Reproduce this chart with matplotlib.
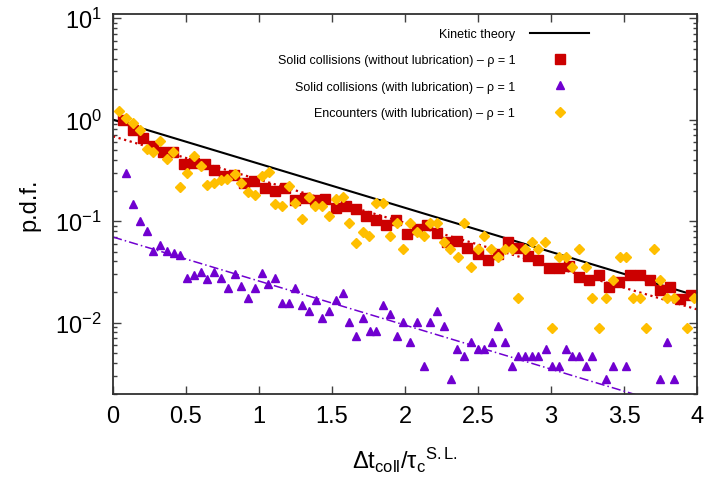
import matplotlib
matplotlib.use('Agg')
import matplotlib.pyplot as plt
from matplotlib.ticker import LogLocator, MultipleLocator, NullFormatter

plt.rcParams['font.family'] = ['Liberation Sans', 'DejaVu Sans']
plt.rcParams['mathtext.fontset'] = 'custom'
plt.rcParams['mathtext.rm'] = 'Liberation Sans'
plt.rcParams['mathtext.it'] = 'Liberation Sans'
plt.rcParams['mathtext.default'] = 'regular'

# kinetic theory and fitted lines (end points)
kin_x = [0.0, 4.0]
kin_y = [1.0, 0.0183]
red_fit_x = [0.0, 4.0]
red_fit_y = [0.685, 0.0135]
pur_fit_x = [0.0, 4.0]
pur_fit_y = [0.0697, 0.00128]

# solid collisions without lubrication
red_x = [0.066, 0.139, 0.207, 0.276, 0.345, 0.413, 0.488, 0.557, 0.627, 0.694,
         0.762, 0.831, 0.899, 0.968, 1.043, 1.112, 1.180, 1.249, 1.317, 1.386,
         1.454, 1.529, 1.598, 1.666, 1.735, 1.803, 1.872, 1.940, 2.016, 2.084,
         2.153, 2.221, 2.290, 2.358, 2.427, 2.502, 2.571, 2.639, 2.708, 2.776,
         2.845, 2.913, 2.988, 3.057, 3.125, 3.194, 3.262, 3.331, 3.399, 3.468,
         3.543, 3.612, 3.680, 3.749, 3.817, 3.886, 3.961]
red_y = [1.00, 0.785, 0.664, 0.544, 0.477, 0.477, 0.363, 0.373, 0.363, 0.317,
         0.277, 0.285, 0.236, 0.249, 0.211, 0.197, 0.211, 0.161, 0.169, 0.161,
         0.165, 0.134, 0.140, 0.131, 0.112, 0.102, 0.0913, 0.102, 0.0745, 0.0836,
         0.0926, 0.0762, 0.0622, 0.0636, 0.0543, 0.0474, 0.0413, 0.0474, 0.0622, 0.0543,
         0.0449, 0.0413, 0.0345, 0.0345, 0.0361, 0.0281, 0.0263, 0.0294, 0.0224, 0.0251,
         0.0294, 0.0294, 0.0263, 0.0210, 0.0224, 0.0171, 0.0187]

# solid collisions with lubrication
pur_x = [0.091, 0.137, 0.183, 0.231, 0.276, 0.324, 0.370, 0.416, 0.461, 0.507,
         0.555, 0.601, 0.646, 0.692, 0.740, 0.786, 0.834, 0.879, 0.925, 0.971,
         1.018, 1.064, 1.110, 1.155, 1.203, 1.249, 1.295, 1.342, 1.388, 1.434,
         1.479, 1.527, 1.573, 1.618, 1.664, 1.712, 1.758, 1.803, 1.849, 1.897,
         1.943, 1.988, 2.036, 2.082, 2.128, 2.173, 2.221, 2.267, 2.313, 2.358,
         2.406, 2.452, 2.498, 2.543, 2.594, 2.639, 2.685, 2.731, 2.776, 2.822,
         2.868, 2.913, 2.964, 3.009, 3.055, 3.101, 3.146, 3.192, 3.238, 3.283,
         3.379, 3.425, 3.516, 3.749, 3.795, 3.840]
pur_y = [0.2985, 0.149, 0.1007, 0.0803, 0.0507, 0.0585, 0.0507, 0.0488, 0.0459, 0.0277,
         0.0296, 0.0312, 0.0267, 0.0312, 0.0277, 0.0221, 0.0303, 0.0231, 0.0176, 0.0221,
         0.0305, 0.0242, 0.0277, 0.01574, 0.01574, 0.0221, 0.0148, 0.01303, 0.01657, 0.01112,
         0.01303, 0.01657, 0.0194, 0.01016, 0.00745, 0.01112, 0.00834, 0.00834, 0.0148, 0.01207,
         0.00745, 0.01016, 0.0065, 0.01016, 0.00372, 0.01016, 0.01303, 0.00928, 0.0028, 0.00555,
         0.00466, 0.0065, 0.00555, 0.00555, 0.0065, 0.00928, 0.0065, 0.00372, 0.00466, 0.00466,
         0.00466, 0.00466, 0.00555, 0.00372, 0.00372, 0.00555, 0.00466, 0.00466, 0.00372, 0.00466,
         0.0028, 0.00372, 0.00372, 0.0028, 0.0065, 0.0028]

# encounters with lubrication
yel_x = [0.043, 0.089, 0.135, 0.185, 0.231, 0.276, 0.322, 0.368, 0.413, 0.459,
         0.505, 0.555, 0.601, 0.646, 0.692, 0.738, 0.783, 0.834, 0.879, 0.925,
         0.971, 1.021, 1.066, 1.112, 1.158, 1.203, 1.249, 1.295, 1.340, 1.386,
         1.432, 1.477, 1.527, 1.573, 1.618, 1.664, 1.710, 1.755, 1.801, 1.851,
         1.897, 1.943, 1.988, 2.034, 2.080, 2.128, 2.173, 2.219, 2.265, 2.310,
         2.361, 2.406, 2.452, 2.498, 2.543, 2.589, 2.635, 2.685, 2.731, 2.776,
         2.822, 2.868, 2.913, 2.959, 3.009, 3.055, 3.101, 3.146, 3.192, 3.238,
         3.283, 3.329, 3.379, 3.425, 3.471, 3.516, 3.562, 3.608, 3.653, 3.703,
         3.749, 3.795, 3.840, 3.932, 3.977]
yel_y = [1.206, 1.03, 0.920, 0.796, 0.514, 0.484, 0.620, 0.410, 0.484, 0.219,
         0.2985, 0.439, 0.350, 0.2275, 0.238, 0.2565, 0.2624, 0.290, 0.2365, 0.193,
         0.1827, 0.281, 0.3075, 0.149, 0.1405, 0.221, 0.1503, 0.1054, 0.1746, 0.1405,
         0.1405, 0.1135, 0.1668, 0.1746, 0.0962, 0.0612, 0.079, 0.0706, 0.1503, 0.1503,
         0.0706, 0.0962, 0.0526, 0.0962, 0.079, 0.0706, 0.0968, 0.0968, 0.0616, 0.053,
         0.044, 0.0962, 0.0353, 0.053, 0.0706, 0.053, 0.044, 0.053, 0.053, 0.0176,
         0.053, 0.0616, 0.053, 0.0616, 0.0088, 0.044, 0.044, 0.0353, 0.053, 0.0353,
         0.0176, 0.0088, 0.0176, 0.0265, 0.044, 0.044, 0.0176, 0.0176, 0.0088, 0.053,
         0.0265, 0.0176, 0.0176, 0.0088, 0.0176]

labels = ['Kinetic theory',
          'Solid collisions (without lubrication) \u2013 \u03c1 = 1',
          'Solid collisions (with lubrication) \u2013 \u03c1 = 1',
          'Encounters (with lubrication) \u2013 \u03c1 = 1']

red = '#cc0000'
purple = '#7000d0'
yellow = '#ffbf00'

fig = plt.figure(figsize=(7.08, 4.81), dpi=100)
ax = fig.add_axes([113/708, 1-394.5/481, (697-113)/708, (394.5-15)/481])

ax.plot(kin_x, kin_y, color='black', lw=1.5, label=labels[0])
ax.plot(red_fit_x, red_fit_y, color=red, lw=1.6, ls=(0, (1, 1.6)))
ax.plot(pur_fit_x, pur_fit_y, color=purple, lw=1.1, ls=(0, (6, 2, 1, 2)))
ax.plot(red_x, red_y, 's', color=red, ms=7, ls='none', label=labels[1])
ax.plot(pur_x, pur_y, '^', color=purple, ms=5.5, ls='none', label=labels[2])
ax.plot(yel_x, yel_y, 'D', color=yellow, ms=4.6, ls='none', label=labels[3])

ax.set_yscale('log')
ax.set_xlim(0, 4)
ax.set_ylim(0.002, 11)
ax.xaxis.set_major_locator(MultipleLocator(0.5))
ax.xaxis.set_major_formatter(plt.FuncFormatter(lambda v, p: '%g' % v))
ax.yaxis.set_major_locator(LogLocator(base=10, numticks=10))
ax.yaxis.set_minor_locator(LogLocator(base=10, subs=range(2, 10), numticks=20))
ax.yaxis.set_minor_formatter(NullFormatter())

ax.tick_params(which='both', direction='in', top=True, right=True, labelsize=17, pad=8,
               color='#404040')
ax.tick_params(which='major', length=6, width=1)
ax.tick_params(which='minor', length=3, width=1)
for s in ax.spines.values():
    s.set_linewidth(1.3)
    s.set_color('#303030')

ax.set_ylabel('p.d.f.', fontsize=17, labelpad=11)
ax.set_xlabel(r'$\mathrm{\Delta t_{coll}/\tau_{c}{}^{S.L.}}$', fontsize=17, labelpad=13)

ax.legend(loc='upper right', bbox_to_anchor=(589/708, 1-29/481), bbox_transform=fig.transFigure,
          frameon=False, markerfirst=False, fontsize=9, handlelength=4.7, handletextpad=1.2,
          labelspacing=1.15, borderpad=0, borderaxespad=0, numpoints=1)

fig.savefig('out.png', dpi=100)
